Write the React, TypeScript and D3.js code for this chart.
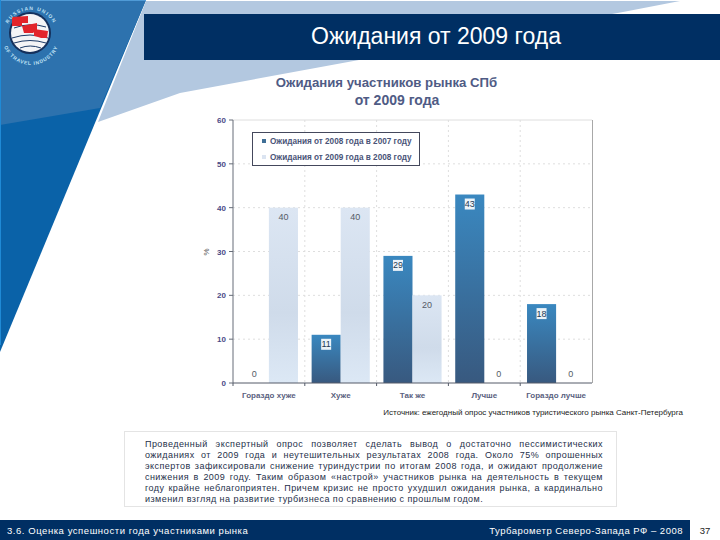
import * as d3 from 'd3';

const categories = ['Гораздо хуже', 'Хуже', 'Так же', 'Лучше', 'Гораздо лучше'];
const values2007 = [0, 11, 29, 43, 18];
const values2008 = [40, 40, 20, 0, 0];
const seriesNames = ['Ожидания от 2008 года в 2007 году', 'Ожидания от 2009 года в 2008 году'];
const yTicks = [0, 10, 20, 30, 40, 50, 60];
const bodyLines = [
  'Проведенный экспертный опрос позволяет сделать вывод о достаточно пессимистических',
  'ожиданиях от 2009 года и неутешительных результатах 2008 года. Около 75% опрошенных',
  'экспертов зафиксировали снижение туриндустрии по итогам 2008 года, и ожидают продолжение',
  'снижения в 2009 году. Таким образом «настрой» участников рынка на деятельность в текущем',
  'году крайне неблагоприятен. Причем кризис не просто ухудшил ожидания рынка, а кардинально',
  'изменил взгляд на развитие турбизнеса по сравнению с прошлым годом.',
];

const FONT = '"Liberation Sans", Arial, sans-serif';
const NAVY = '#002f63';
const BODY_SIZE = 9;
const BODY_TRACK = 0.45;

const x0 = d3.scaleBand<string>().domain(categories).range([233, 592]).paddingInner(0.19).paddingOuter(0.095);
const x1 = d3.scaleBand<number>().domain([0, 1]).range([0, x0.bandwidth()]);
const y = d3.scaleLinear().domain([0, 60]).range([383, 120]);
const step = x0.step();

// stretch the spaces so a line fills the width, like justified text on the slide
function wordSpacing(line: string, width: number) {
  const ctx = document.createElement('canvas').getContext('2d');
  if (!ctx) return 0;
  ctx.font = `${BODY_SIZE}px "Liberation Sans"`;
  const spaces = line.split(' ').length - 1;
  return (width - ctx.measureText(line).width - line.length * BODY_TRACK) / spaces;
}

function Bar({ cat, v, s }: { cat: string; v: number; s: number }) {
  const bx = (x0(cat) || 0) + (x1(s) || 0);
  const light = s === 1;
  const cx = bx + x1.bandwidth() / 2;
  const ly = v > 0 ? y(v) + 9 : y(0) - 10;
  return (
    <g>
      {v > 0 && (
        <rect x={bx} y={y(v)} width={x1.bandwidth()} height={y(0) - y(v)} fill={light ? 'url(#barLight)' : 'url(#barDark)'} />
      )}
      {v > 0 && !light && <rect x={cx - 5} y={ly - 5} width={10} height={11} fill="#fff" opacity={0.9} />}
      <text x={cx} y={ly + 3.5} textAnchor="middle" fontSize={9} fill={v > 0 && !light ? '#223a55' : '#555a66'}>
        {v}
      </text>
    </g>
  );
}

export default function App() {
  return (
    <svg width={720} height={540} viewBox="0 0 720 540" fontFamily={FONT} style={{ position: 'absolute', left: 0, top: 0, background: '#fff' }}>
      <defs>
        <linearGradient id="barDark" x1="0" y1="0" x2="0" y2="1">
          <stop offset="0" stopColor="#3a88c0" />
          <stop offset="1" stopColor="#38597f" />
        </linearGradient>
        <linearGradient id="barLight" x1="0" y1="0" x2="0" y2="1">
          <stop offset="0" stopColor="#dce6f3" />
          <stop offset="0.6" stopColor="#cfdbea" />
          <stop offset="1" stopColor="#dce8f5" />
        </linearGradient>
        <path id="logoTop" d="M 5 36 A 26 26 0 0 1 57 36" />
        <path id="logoBottom" d="M 2 36 A 29 29 0 0 0 60 36" />
      </defs>

      {/* slide background */}
      <polygon points="146,1 680,1 623,12 359,60 180,93 98,122" fill="#b3c8e0" />
      <polygon points="0,0 146,0 0,352" fill="#0a62a8" />
      <polygon points="0,0 146,0 100,108 0,125" fill="#2d72ae" />
      <rect x={0} y={0} width={146} height={1} fill="#4f9ad6" />
      <rect x={0} y={0} width={1} height={345} fill="#1f8ad6" />

      {/* logo */}
      <circle cx={30} cy={33} r={21} fill="#14305c" />
      <circle cx={30} cy={33} r={19} fill="#f4f4f6" />
      <g stroke="#1c3a66" strokeWidth={1} fill="none">
        <path d="M 14 28 Q 30 22 46 27" />
        <path d="M 12 38 Q 30 32 48 38" />
        <path d="M 14 43 Q 30 38 46 43" />
        <path d="M 20 48 Q 30 44 41 48" />
      </g>
      <g fill="#e2242b">
        <polygon points="12,17 28,16 28,23 22,23 22,26 12,26" />
        <polygon points="22,26 37,23 37,30 33,33 24,33" />
        <polygon points="34,29 48,31 47,38 41,38 38,37 34,36" />
      </g>
      <text fontSize={5} fontWeight="bold" fill="#bfe0f5" letterSpacing={1.2}>
        <textPath href="#logoTop" startOffset="50%" textAnchor="middle">RUSSIAN UNION</textPath>
      </text>
      <text fontSize={5} fontWeight="bold" fill="#bfe0f5" letterSpacing={0.8}>
        <textPath href="#logoBottom" startOffset="50%" textAnchor="middle">OF TRAVEL INDUSTRY</textPath>
      </text>

      {/* header */}
      <rect x={144} y={14} width={576} height={46} fill={NAVY} />
      <text x={436} y={44} textAnchor="middle" fontSize={23} fill="#fff">Ожидания от 2009 года</text>

      {/* chart title */}
      <text x={386.5} y={87} textAnchor="middle" fontSize={13.2} fontWeight="bold" fill="#4f5b85">Ожидания участников рынка СПб</text>
      <text x={397} y={105} textAnchor="middle" fontSize={14} fontWeight="bold" fill="#4f5b85">от 2009 года</text>

      {/* grid */}
      {yTicks.filter((t) => t > 0).map((t) => (
        <line key={t} x1={233} x2={592} y1={y(t)} y2={y(t)} stroke="#dedede" strokeDasharray={t === 60 ? undefined : '2 3'} />
      ))}
      {categories.slice(1).map((c) => (
        <line key={c} x1={(x0(c) || 0) - step * 0.095} x2={(x0(c) || 0) - step * 0.095} y1={120} y2={383} stroke="#dedede" strokeDasharray="2 3" />
      ))}

      {/* bars */}
      {categories.map((c, i) => (
        <g key={c}>
          <Bar cat={c} v={values2007[i]} s={0} />
          <Bar cat={c} v={values2008[i]} s={1} />
        </g>
      ))}

      {/* axes */}
      <line x1={592.5} x2={592.5} y1={120} y2={383} stroke="#a8a8a8" />
      <line x1={233} x2={233} y1={120} y2={383} stroke="#666c78" />
      <line x1={233} x2={592} y1={383} y2={383} stroke="#555b68" />
      {yTicks.map((t) => (
        <g key={t}>
          <line x1={229} x2={233} y1={y(t)} y2={y(t)} stroke="#666c78" />
          <text x={226} y={y(t) + 3} textAnchor="end" fontSize={8} fontWeight="bold" fill="#4a4a86">{t}</text>
        </g>
      ))}
      {categories.map((c) => (
        <g key={c}>
          <line x1={(x0(c) || 0) - step * 0.095} x2={(x0(c) || 0) - step * 0.095} y1={383} y2={386} stroke="#555b68" />
          <text x={(x0(c) || 0) + x0.bandwidth() / 2} y={398} textAnchor="middle" fontSize={8} fontWeight="bold" fill="#5a5f80">{c}</text>
        </g>
      ))}
      <text transform="translate(209,252) rotate(-90)" textAnchor="middle" fontSize={8} fill="#555">%</text>

      {/* legend */}
      <rect x={252.5} y={132.5} width={167} height={33} fill="#fff" stroke="#44485c" />
      {seriesNames.map((name, i) => (
        <g key={name}>
          <rect x={262} y={139 + i * 16} width={4} height={4} fill={i === 0 ? '#3f6f96' : '#dbe4f1'} />
          <text x={270} y={143.5 + i * 16} fontSize={8.2} fontWeight="bold" fill="#4a5478">{name}</text>
        </g>
      ))}

      {/* source */}
      <text x={683} y={415} textAnchor="end" fontSize={8} fill="#222">Источник: ежегодный опрос участников туристического рынка Санкт-Петербурга</text>

      {/* text box */}
      <rect x={124.5} y={431.5} width={492} height={75} fill="#fff" stroke="#e4e4e4" />
      {bodyLines.map((line, i) => (
        <text
          key={i}
          x={145}
          y={447 + i * 11}
          fontSize={BODY_SIZE}
          letterSpacing={BODY_TRACK}
          fill="#26304a"
          wordSpacing={i < bodyLines.length - 1 ? wordSpacing(line, 458) : 0}
        >
          {line}
        </text>
      ))}

      {/* footer */}
      <rect x={0} y={520} width={690} height={20} fill={NAVY} />
      <text x={7} y={533.5} fontSize={9.5} letterSpacing={0.55} fill="#fff">3.6. Оценка успешности года участниками рынка</text>
      <text x={683} y={533.5} textAnchor="end" fontSize={9.5} letterSpacing={0.5} fill="#fff">Турбарометр Северо-Запада РФ – 2008</text>
      <text x={705} y={534} textAnchor="middle" fontSize={9.5} fill="#222">37</text>
    </svg>
  );
}
